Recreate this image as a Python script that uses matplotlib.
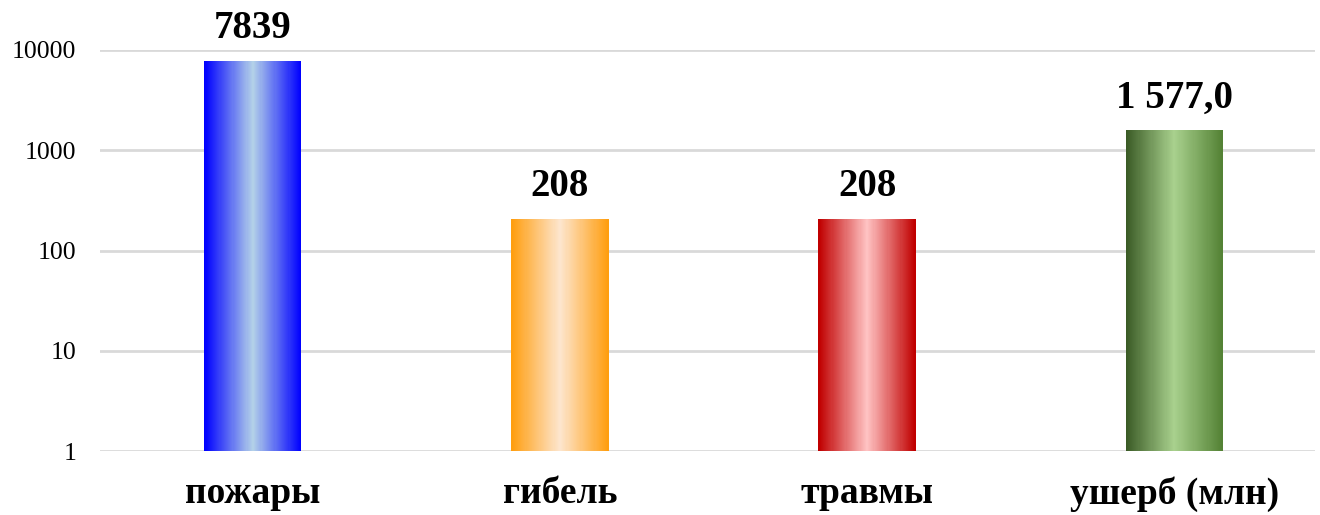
import numpy as np
import matplotlib.pyplot as plt
from matplotlib.colors import to_rgb

categories = ["пожары", "гибель", "травмы", "ушерб (млн)"]
values = [7839, 208, 208, 1577.0]
value_labels = ["7839", "208", "208", "1 577,0"]

# edge / centre / other edge colours of the gradient fill
grad_colors = [
    ["#0000ff", "#b4d2e8", "#0000ff"],
    ["#ff9e10", "#fde6cf", "#ff9e10"],
    ["#c00000", "#ffc4c4", "#c00000"],
    ["#3a5a25", "#a9d18e", "#548235"],
]

plt.rcParams['font.family'] = ['Liberation Serif', 'DejaVu Serif']

fig = plt.figure(figsize=(13.2, 5.15), dpi=100)
ax = fig.add_axes([100 / 1320, 0.124, 1215 / 1320, 0.779])

x = np.arange(len(categories))
width = 0.316
n_strips = 90

for i, (v, cols) in enumerate(zip(values, grad_colors)):
    c0, c1, c2 = [np.array(to_rgb(c)) for c in cols]
    t = np.linspace(0, 1, n_strips)
    left = x[i] - width / 2
    sw = width / n_strips
    for k, tt in enumerate(t):
        if tt < 0.5:
            col = c0 + (c1 - c0) * (tt / 0.5)
        else:
            col = c1 + (c2 - c1) * ((tt - 0.5) / 0.5)
        ax.bar(left + k * sw, v - 1, bottom=1, width=sw * 1.05, align='edge',
               color=col, linewidth=0, zorder=3)
    ax.annotate(value_labels[i], (x[i], v), xytext=(0, 10), textcoords='offset points',
                ha='center', va='bottom', fontsize=28, fontweight='bold')

ax.set_yscale('log')
ax.set_ylim(1, 10000)
ax.set_xlim(-0.498, 3.459)
ax.set_yticks([1, 10, 100, 1000, 10000])
ax.set_yticklabels(["1", "10", "100", "1000", "10000"], fontsize=18.5)
ax.minorticks_off()
ax.set_xticks(x)
ax.set_xticklabels(categories, fontsize=27, fontweight='bold')
ax.tick_params(axis='x', length=0, pad=18)
ax.tick_params(axis='y', length=0, pad=17)
ax.yaxis.grid(True, color='#d9d9d9', linewidth=2)
ax.set_axisbelow(True)
for s in ax.spines.values():
    s.set_visible(False)

fig.savefig("out.png", dpi=100)
